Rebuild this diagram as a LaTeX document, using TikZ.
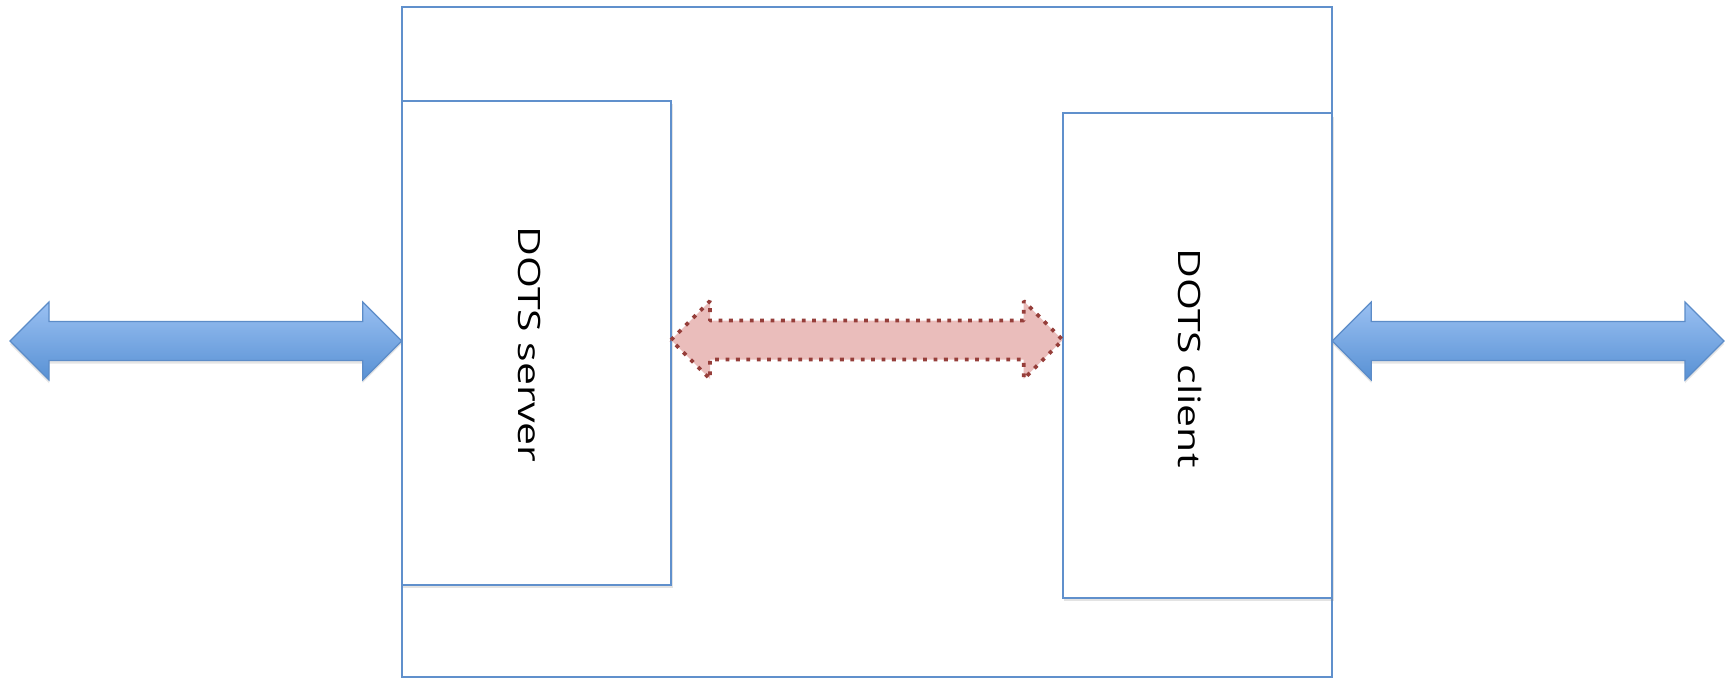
\documentclass[tikz,border=0pt]{standalone}
\usepackage{graphicx}
\usepackage{fontspec}
\setmainfont{Open Sans}
\usetikzlibrary{calc,shadows}
\definecolor{boxblue}{RGB}{96,144,204}
\definecolor{arrowtop}{RGB}{154,192,242}
\definecolor{arrowbot}{RGB}{88,145,212}
\definecolor{arrowline}{RGB}{92,140,200}
\definecolor{pinkfill}{RGB}{234,189,187}
\definecolor{dotred}{RGB}{150,62,58}
\newcommand{\twoway}[3]{%
  \path[#1] let \p1=(#2), \p2=(#3) in
  (\x1,\y1) -- (\x1+19.5pt,\y1+19.5pt) -- (\x1+19.5pt,\y1+9.75pt)
  -- (\x2-19.5pt,\y1+9.75pt) -- (\x2-19.5pt,\y1+19.5pt) -- (\x2,\y1)
  -- (\x2-19.5pt,\y1-19.5pt) -- (\x2-19.5pt,\y1-9.75pt)
  -- (\x1+19.5pt,\y1-9.75pt) -- (\x1+19.5pt,\y1-19.5pt) -- cycle;}
\tikzset{
  box/.style={draw=boxblue, line width=1pt, fill=white, inner sep=0pt, outer sep=0pt, anchor=north west},
  shadowbox/.style={box, drop shadow={opacity=0.22, shadow xshift=0.8pt, shadow yshift=-1.6pt}},
  label/.style={rotate=-90, anchor=base, inner sep=0pt, font=\fontsize{15.4}{18}\selectfont},
  bluearrow/.style={draw=arrowline, line width=0.6pt, top color=arrowtop, bottom color=arrowbot, line join=miter,
    drop shadow={opacity=0.2, shadow xshift=0pt, shadow yshift=-1.5pt}},
  pinkarrow/.style={fill=pinkfill, draw=dotred, line width=1.9pt, dash pattern=on 1.9pt off 3.3pt, line join=bevel}
}
\begin{document}
\begin{tikzpicture}[x=0.5pt,y=-0.5pt]
  \useasboundingbox[fill=white] (0,0) rectangle (1728,679);
  \node[box, minimum width=465.3pt, minimum height=335.35pt] (outer) at (401.7,6.6) {};
  \node[shadowbox, minimum width=134.65pt, minimum height=242.15pt] (server) at (401.7,100.7) {};
  \node[shadowbox, minimum width=134.8pt, minimum height=242.1pt] (client) at (1062.7,113.5) {};
  \node[label] (servertext) at (518,344.5) {\scalebox{1.33}[1]{DOTS server}};
  \node[label] (clienttext) at (1178,358) {\scalebox{1.33}[1]{DOTS client}};
  \coordinate (L) at (10,341);
  \coordinate (R) at (1724,341);
  \coordinate (M) at (0,340);
  \twoway{bluearrow}{L}{L -| outer.west}
  \twoway{bluearrow}{R -| outer.east}{R}
  \twoway{pinkarrow}{M -| server.east}{M -| client.west}
\end{tikzpicture}
\end{document}
